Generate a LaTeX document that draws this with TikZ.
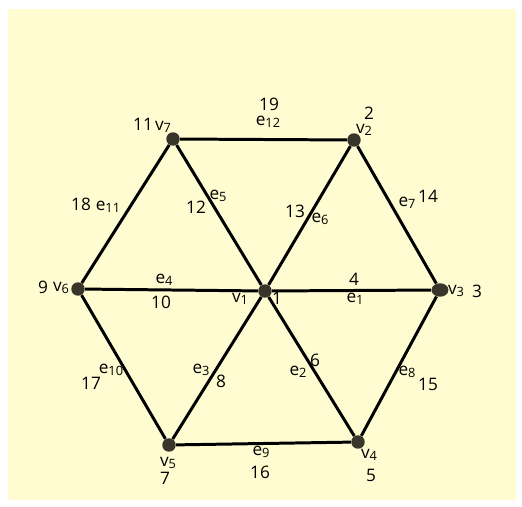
\documentclass[tikz,border=0pt]{standalone}
\usepackage{fontspec}
\setmainfont{Open Sans}
\usetikzlibrary{shapes.geometric}
\definecolor{bgyellow}{HTML}{FFFCD2}
\definecolor{dotgray}{HTML}{3A352A}
\newcommand{\sub}[2]{#1\raisebox{-1pt}{\fontsize{7.3}{8}\selectfont#2}}

\begin{document}
\begin{tikzpicture}[x=0.02cm,y=-0.02cm,
  every node/.style={font=\fontsize{9.8}{11}\selectfont},
  vtx/.style={circle,fill=dotgray,inner sep=0pt,minimum size=0.27cm},
  edge/.style={line width=1.7pt,black}]
  % 背景
  \useasboundingbox (0,0) rectangle (522,507);
  \fill[bgyellow] (8,9) rectangle (516,500);
  % 顶点
  \node[vtx] (v1) at (265,291) {};
  \node[vtx] (v2) at (354,140) {};
  \node[vtx,ellipse,minimum width=0.34cm] (v3) at (440,290) {};
  \node[vtx] (v4) at (358,442) {};
  \node[vtx] (v5) at (169,445) {};
  \node[vtx] (v6) at (78,289) {};
  \node[vtx] (v7) at (173,139) {};
  % 边
  \draw[edge] (v1) -- (v3);
  \draw[edge] (v1) -- (v4);
  \draw[edge] (v1) -- (v5);
  \draw[edge] (v1) -- (v6);
  \draw[edge] (v1) -- (v7);
  \draw[edge] (v1) -- (v2);
  \draw[edge] (v2) -- (v3);
  \draw[edge] (v3) -- (v4);
  \draw[edge] (v4) -- (v5);
  \draw[edge] (v5) -- (v6);
  \draw[edge] (v6) -- (v7);
  \draw[edge] (v7) -- (v2);
  % 顶点标注
  \node (lv1) at (240,299) {\sub{v}{1}};
  \node (nv1) at (277,298) {1};
  \node (lv2) at (364,130) {\sub{v}{2}};
  \node (nv2) at (369,113) {2};
  \node (lv3) at (456,291) {\sub{v}{3}};
  \node (nv3) at (477,291) {3};
  \node (lv4) at (369,455) {\sub{v}{4}};
  \node (nv4) at (371,475) {5};
  \node (lv5) at (168,463) {\sub{v}{5}};
  \node (nv5) at (165,478) {7};
  \node (lv6) at (61,288) {\sub{v}{6}};
  \node (nv6) at (43,287) {9};
  \node (lv7) at (163,127) {\sub{v}{7}};
  \node (nv7) at (143,124) {11};
  % 边标注
  \node (le1) at (355,299) {\sub{e}{1}};
  \node (ne1) at (354,279) {4};
  \node (le2) at (298,372) {\sub{e}{2}};
  \node (ne2) at (315,360) {6};
  \node (le3) at (201,370) {\sub{e}{3}};
  \node (ne3) at (221,381) {8};
  \node (le4) at (164,280) {\sub{e}{4}};
  \node (ne4) at (161,302) {10};
  \node (le5) at (218,196) {\sub{e}{5}};
  \node (ne5) at (196,207) {12};
  \node (le6) at (320,219) {\sub{e}{6}};
  \node (ne6) at (295,211) {13};
  \node (le7) at (407,203) {\sub{e}{7}};
  \node (ne7) at (428,196) {14};
  \node (le8) at (407,372) {\sub{e}{8}};
  \node (ne8) at (428,384) {15};
  \node (le9) at (261,452) {\sub{e}{9}};
  \node (ne9) at (260,472) {16};
  \node (le10) at (111,370) {\sub{e}{10}};
  \node (ne10) at (91,383) {17};
  \node (le11) at (108,207) {\sub{e}{11}};
  \node (ne11) at (81,204) {18};
  \node (le12) at (268,122) {\sub{e}{12}};
  \node (ne12) at (269,104) {19};
\end{tikzpicture}
\end{document}
